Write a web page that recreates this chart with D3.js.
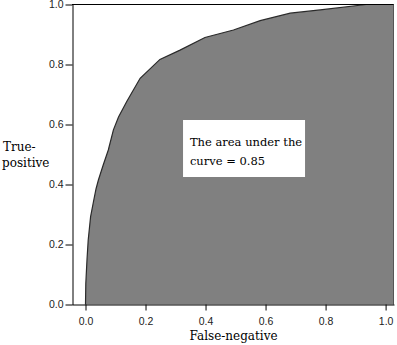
<!DOCTYPE html>
<html>
<head>
<meta charset="utf-8">
<script src="https://cdn.jsdelivr.net/npm/d3@7"></script>
<style>
  body { margin: 0; background: #fff; }
  svg { display: block; }
</style>
</head>
<body>
<div id="chart"></div>
<script>
// ROC curve
var fnRate = [0, 0.001, 0.005, 0.009, 0.017, 0.026, 0.035, 0.043, 0.059, 0.076, 0.093, 0.11, 0.137, 0.182, 0.248, 0.315, 0.398, 0.493, 0.582, 0.682, 0.782, 0.935, 1];
var tpRate = [0, 0.07, 0.15, 0.215, 0.293, 0.34, 0.385, 0.415, 0.465, 0.515, 0.582, 0.625, 0.676, 0.754, 0.817, 0.848, 0.89, 0.915, 0.946, 0.971, 0.982, 1, 1];
var tickVals = [0, 0.2, 0.4, 0.6, 0.8, 1.0];
var noteLines = ["The area under the", "curve = 0.85"];

var serif = '"DejaVu Serif", serif';
var sans = '"Liberation Sans", Arial, sans-serif';

var W = 397, H = 345;
var svg = d3.select("#chart").append("svg")
    .attr("width", W)
    .attr("height", H);

// plot frame is padded a bit past 0 and 1 on the x side
var xScale = d3.scaleLinear().domain([-0.045, 1.028]).range([72, 394]);
var yScale = d3.scaleLinear().domain([0, 1]).range([304.5, 4.5]);

var pts = fnRate.map(function(d, i) { return {x: d, y: tpRate[i]}; });

// gray area under the curve, runs out to the right edge of the frame
var areaPts = pts.concat([{x: xScale.domain()[1], y: 1}]);
svg.append("path")
    .datum(areaPts)
    .attr("fill", "#808080")
    .attr("d", d3.area()
        .x(function(d) { return xScale(d.x); })
        .y0(yScale(0))
        .y1(function(d) { return yScale(d.y); }));

svg.append("path")
    .datum(pts)
    .attr("fill", "none")
    .attr("stroke", "#2a2a2a")
    .attr("stroke-width", 1.2)
    .attr("d", d3.line()
        .x(function(d) { return xScale(d.x); })
        .y(function(d) { return yScale(d.y); }));

// frame top and right
var x0 = xScale.range()[0], x1 = xScale.range()[1];
svg.append("line")
    .attr("x1", x0).attr("x2", x1)
    .attr("y1", yScale(1)).attr("y2", yScale(1))
    .attr("stroke", "#000").attr("stroke-width", 1);
svg.append("line")
    .attr("x1", x1 - 0.5).attr("x2", x1 - 0.5)
    .attr("y1", yScale(1)).attr("y2", yScale(0))
    .attr("stroke", "#555").attr("stroke-width", 1);

var xAxis = svg.append("g")
    .attr("transform", "translate(0," + yScale(0) + ")")
    .call(d3.axisBottom(xScale).tickValues(tickVals).tickFormat(d3.format(".1f")).tickSize(6).tickSizeOuter(0));
var yAxis = svg.append("g")
    .attr("transform", "translate(" + (x0 + 0.5) + ",0)")
    .call(d3.axisLeft(yScale).tickValues(tickVals).tickFormat(d3.format(".1f")).tickSize(7).tickSizeOuter(0));

xAxis.select(".domain").attr("stroke", "#000");
yAxis.select(".domain").attr("stroke", "#000");
svg.selectAll(".tick text")
    .attr("font-family", sans)
    .attr("font-size", "10.5px")
    .attr("fill", "#222");
xAxis.selectAll(".tick text").attr("dy", "1.05em");
yAxis.selectAll(".tick text").attr("x", -9);

// axis titles
svg.append("text")
    .attr("x", 3).attr("y", 151)
    .style("font-family", serif).attr("font-size", "12px")
    .text("True-");
svg.append("text")
    .attr("x", 2).attr("y", 167)
    .style("font-family", serif).attr("font-size", "12px")
    .text("positive");
svg.append("text")
    .attr("x", xScale(0.5) - 2).attr("y", 340)
    .attr("text-anchor", "middle")
    .style("font-family", serif).attr("font-size", "12px")
    .text("False-negative");

// annotation box
svg.append("rect")
    .attr("x", xScale(0.325)).attr("y", yScale(0.615))
    .attr("width", 122).attr("height", 57)
    .attr("fill", "#fff");
svg.selectAll(".note")
    .data(noteLines)
    .enter().append("text")
    .attr("class", "note")
    .attr("x", xScale(0.348))
    .attr("y", function(d, i) { return 146 + i * 18.5; })
    .style("font-family", serif).attr("font-size", "11.5px")
    .text(function(d) { return d; });
</script>
</body>
</html>
